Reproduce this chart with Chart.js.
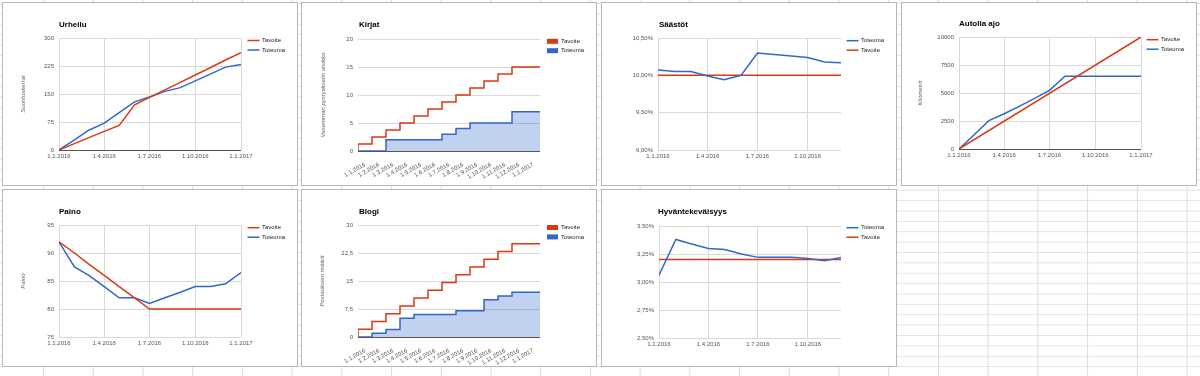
<!DOCTYPE html>
<html>
<head>
<meta charset="utf-8">
<script src="https://cdn.jsdelivr.net/npm/chart.js@4.4.0/dist/chart.umd.min.js"></script>
<style>
  html, body { margin: 0; padding: 0; }
  body {
    width: 1200px;
    height: 376px;
    overflow: hidden;
    position: relative;
    background-color: #fff;
    background-image: linear-gradient(to right, #dcdcdc 1px, transparent 1px),
      linear-gradient(to bottom, #e2e2e2 1px, transparent 1px);
    background-size: 49.72px 10.39px;
    background-position: 43px 3px;
  }
  .panel { position: absolute; background: #fff; border: 1px solid #b7b7b7; }
  .panel canvas { position: absolute; left: 0; top: 0; }
</style>
</head>
<body>
<div class="panel" style="left:2px;top:2px;width:294px;height:182px"><canvas id="urheilu" width="294" height="182"></canvas></div>
<div class="panel" style="left:301px;top:2px;width:294px;height:182px"><canvas id="kirjat" width="294" height="182"></canvas></div>
<div class="panel" style="left:601px;top:2px;width:294px;height:182px"><canvas id="saastot" width="294" height="182"></canvas></div>
<div class="panel" style="left:901px;top:2px;width:294px;height:182px"><canvas id="autolla" width="294" height="182"></canvas></div>
<div class="panel" style="left:2px;top:189px;width:294px;height:176px"><canvas id="paino" width="294" height="176"></canvas></div>
<div class="panel" style="left:301px;top:189px;width:294px;height:176px"><canvas id="blogi" width="294" height="176"></canvas></div>
<div class="panel" style="left:601px;top:189px;width:294px;height:176px"><canvas id="hyvantekevaisyys" width="294" height="176"></canvas></div>

<script>
const RED = "#dc3912";
const BLUE = "#3366cc";
const BLUE_FILL = "rgba(51, 102, 204, 0.3)";
const GRID = "#d9d9d9";
const BASE = "#555555";
const FONT = "'Liberation Sans', Arial, sans-serif";

// month starts used as categories
const months = ["1.1.2016", "1.2.2016", "1.3.2016", "1.4.2016", "1.5.2016", "1.6.2016",
  "1.7.2016", "1.8.2016", "1.9.2016", "1.10.2016", "1.11.2016", "1.12.2016", "1.1.2017"];
const months2016 = months.slice(0, 12);
const quarterTicks = ["1.1.2016", "1.4.2016", "1.7.2016", "1.10.2016", "1.1.2017"];
const quarterTicks2016 = ["1.1.2016", "1.4.2016", "1.7.2016", "1.10.2016"];

const urheiluTavoite = [0, 17, 33, 50, 66, 121, 141, 161, 181, 201, 221, 241, 261];
const urheiluToteuma = [0, 27, 53, 72, 100, 129, 142, 157, 167, 185, 204, 222, 229];
const urheiluYTicks = [0, 75, 150, 225, 300];

const kirjatTavoite = [0, 1.25, 2.5, 3.75, 5, 6.25, 7.5, 8.75, 10, 11.25, 12.5, 13.75, 15];
const kirjatToteuma = [0, 0, 0, 2, 2, 2, 2, 3, 4, 5, 5, 5, 7];
const kirjatYTicks = [0, 5, 10, 15, 20];

const saastotToteuma = [10.07, 10.05, 10.05, 9.99, 9.94, 10.0, 10.30, 10.28, 10.26, 10.24, 10.18, 10.17];
const saastotTavoite = [10, 10, 10, 10, 10, 10, 10, 10, 10, 10, 10, 10];
const saastotYTicks = [9, 9.5, 10, 10.5];

const autollaTavoiteDates = ["1.1.2016", "1.1.2017"];
const autollaTavoite = [0, 10000];
const autollaToteuma = [0, 1300, 2530, 3150, 3810, 4520, 5240, 6500, 6500, 6500, 6500, 6500, 6500];
const autollaYTicks = [0, 2500, 5000, 7500, 10000];

const painoTavoite = [92, 90, 88, 86, 84, 82, 80, 80, 80, 80, 80, 80, 80];
const painoToteuma = [92, 87.5, 86, 84, 82, 82, 81, 82, 83, 84, 84, 84.5, 86.5];
const painoYTicks = [75, 80, 85, 90, 95];

const blogiTavoite = [0, 2.08, 4.17, 6.25, 8.33, 10.42, 12.5, 14.58, 16.67, 18.75, 20.83, 22.92, 25];
const blogiToteuma = [0, 0, 1, 2, 5, 6, 6, 6, 7, 7, 10, 11, 12];
const blogiYTicks = [0, 7.5, 15, 22.5, 30];

const hyvToteuma = [3.06, 3.38, 3.34, 3.30, 3.29, 3.25, 3.22, 3.22, 3.22, 3.21, 3.19, 3.22];
const hyvTavoite = [3.2, 3.2, 3.2, 3.2, 3.2, 3.2, 3.2, 3.2, 3.2, 3.2, 3.2, 3.2];
const hyvYTicks = [2.5, 2.75, 3, 3.25, 3.5];

Chart.defaults.font.family = FONT;
Chart.defaults.animation = false;

function dayOf(label) {
  let p = label.split(".");
  return (Date.UTC(+p[2], +p[1] - 1, +p[0]) - Date.UTC(2016, 0, 1)) / 86400000;
}

function datePoints(dates, values) {
  return values.map((v, i) => ({ x: dayOf(dates[i]), y: v }));
}

// hold each month's value over its whole category width
function stepPoints(values) {
  let pts = values.map((v, i) => ({ x: i, y: v }));
  pts.push({ x: values.length, y: values[values.length - 1] });
  return pts;
}

function fmtPlain(v) {
  return String(v).replace(".", ",");
}

function fmtPct(v) {
  return v.toFixed(2).replace(".", ",") + "%";
}

const panelDecor = {
  id: "panelDecor",
  afterDraw(chart, args, opts) {
    let ctx = chart.ctx;
    ctx.save();
    ctx.textBaseline = "middle";
    ctx.textAlign = "left";
    ctx.fillStyle = "#000";
    ctx.font = "bold 8px " + FONT;
    ctx.fillText(opts.title, opts.titleX, opts.titleY);
    ctx.font = "6px " + FONT;
    opts.order.forEach(function (dsIndex, i) {
      let ds = chart.data.datasets[dsIndex];
      let y = opts.legendY + i * opts.legendGap;
      if (opts.boxes) {
        ctx.fillStyle = ds.borderColor;
        ctx.fillRect(opts.legendX, y - 2.5, 11, 5);
      } else {
        ctx.strokeStyle = ds.borderColor;
        ctx.lineWidth = 1.5;
        ctx.beginPath();
        ctx.moveTo(opts.legendX, y);
        ctx.lineTo(opts.legendX + 12, y);
        ctx.stroke();
      }
      ctx.fillStyle = "#222";
      ctx.fillText(ds.label, opts.textX, y);
    });
    ctx.restore();
  },
};

function lineSet(label, color, points, stepped, fill) {
  return {
    label: label,
    data: points,
    borderColor: color,
    backgroundColor: fill ? BLUE_FILL : color,
    borderWidth: 1.5,
    pointRadius: 0,
    tension: 0,
    stepped: stepped ? "after" : false,
    fill: fill ? "origin" : false,
  };
}

function timeAxis(tickLabels, maxLabel, height) {
  return {
    type: "linear",
    min: 0,
    max: dayOf(maxLabel),
    afterBuildTicks: function (s) {
      s.ticks = tickLabels.map((l) => ({ value: dayOf(l) }));
    },
    afterFit: function (s) {
      s.height = height;
    },
    ticks: {
      autoSkip: false,
      maxRotation: 0,
      color: "#555",
      font: { size: 6 },
      padding: 3,
      callback: (v, i) => tickLabels[i],
    },
    grid: { color: GRID, drawTicks: false },
    border: { display: false },
  };
}

function categoryAxis(labels, height) {
  return {
    type: "linear",
    min: 0,
    max: labels.length,
    afterBuildTicks: function (s) {
      s.ticks = labels.map((l, i) => ({ value: i + 0.5 }));
    },
    afterFit: function (s) {
      s.height = height;
    },
    ticks: {
      autoSkip: false,
      minRotation: 30,
      maxRotation: 30,
      color: "#555",
      font: { size: 6 },
      padding: 2,
      callback: (v, i) => labels[i],
    },
    grid: { display: false },
    border: { display: false },
  };
}

function valueAxis(tickValues, fmt, width, title, titleX) {
  return {
    min: tickValues[0],
    max: tickValues[tickValues.length - 1],
    afterBuildTicks: function (s) {
      s.ticks = tickValues.map((v) => ({ value: v }));
    },
    afterFit: function (s) {
      s.width = width;
    },
    ticks: { color: "#555", font: { size: 6 }, padding: 5, callback: fmt },
    grid: {
      drawTicks: false,
      color: (c) => (c.tick && c.tick.value === 0 ? BASE : GRID),
    },
    border: { display: false },
    title: {
      display: !!title,
      text: title || "",
      color: "#666",
      font: { size: 6, style: "italic" },
      padding: { top: (titleX || 0) - 3.6, bottom: 0 },
    },
  };
}

function buildChart(id, datasets, xAxis, yAxis, area, decor) {
  let canvas = document.getElementById(id);
  return new Chart(canvas, {
    type: "line",
    data: { datasets: datasets },
    options: {
      responsive: false,
      devicePixelRatio: 1,
      layout: { padding: { left: 0, top: area.t, right: canvas.width - area.r, bottom: 0 } },
      plugins: {
        legend: { display: false },
        title: { display: false },
        tooltip: { enabled: false },
        panelDecor: decor,
      },
      scales: { x: xAxis, y: yAxis },
    },
    plugins: [panelDecor],
  });
}

function lineDecor(title, tx, ty, ly, order) {
  return { title: title, titleX: tx, titleY: ty, legendX: 244.5, textX: 259, legendY: ly, legendGap: 9.5, order: order, boxes: false };
}

function boxDecor(title, tx, ty, ly) {
  return { title: title, titleX: tx, titleY: ty, legendX: 245, textX: 259, legendY: ly, legendGap: 9.4, order: [0, 1], boxes: true };
}

window.onload = function () {
  buildChart("urheilu",
    [lineSet("Tavoite", RED, datePoints(months, urheiluTavoite)),
     lineSet("Toteuma", BLUE, datePoints(months, urheiluToteuma))],
    timeAxis(quarterTicks, "1.1.2017", 182 - 147),
    valueAxis(urheiluYTicks, fmtPlain, 56, "Suorituskerrat", 20),
    { t: 35, r: 238 },
    lineDecor("Urheilu", 56, 21.5, 37.5, [0, 1]));

  buildChart("kirjat",
    [lineSet("Tavoite", RED, stepPoints(kirjatTavoite), true, false),
     lineSet("Toteuma", BLUE, stepPoints(kirjatToteuma), true, true)],
    categoryAxis(months, 182 - 148),
    valueAxis(kirjatYTicks, fmtPlain, 56, "Vasemman pystyakselin otsikko", 21),
    { t: 36, r: 238 },
    boxDecor("Kirjat", 57, 22, 38.3));

  buildChart("saastot",
    [lineSet("Toteuma", BLUE, datePoints(months2016, saastotToteuma)),
     lineSet("Tavoite", RED, datePoints(months2016, saastotTavoite))],
    timeAxis(quarterTicks2016, "1.12.2016", 182 - 147),
    valueAxis(saastotYTicks, fmtPct, 56, null),
    { t: 35, r: 239 },
    lineDecor("Säästöt", 57, 22, 37.7, [0, 1]));

  buildChart("autolla",
    [lineSet("Tavoite", RED, datePoints(autollaTavoiteDates, autollaTavoite)),
     lineSet("Toteuma", BLUE, datePoints(months, autollaToteuma))],
    timeAxis(quarterTicks, "1.1.2017", 182 - 146),
    valueAxis(autollaYTicks, fmtPlain, 57, "Kilometrit", 18),
    { t: 34, r: 239 },
    lineDecor("Autolla ajo", 57, 21, 36.7, [0, 1]));

  buildChart("paino",
    [lineSet("Tavoite", RED, datePoints(months, painoTavoite)),
     lineSet("Toteuma", BLUE, datePoints(months, painoToteuma))],
    timeAxis(quarterTicks, "1.1.2017", 176 - 147),
    valueAxis(painoYTicks, fmtPlain, 56, "Paino", 20),
    { t: 35, r: 238 },
    lineDecor("Paino", 56, 21.7, 37.7, [0, 1]));

  buildChart("blogi",
    [lineSet("Tavoite", RED, stepPoints(blogiTavoite), true, false),
     lineSet("Toteuma", BLUE, stepPoints(blogiToteuma), true, true)],
    categoryAxis(months, 176 - 147),
    valueAxis(blogiYTicks, fmtPlain, 56, "Postauksien määrä", 20),
    { t: 35, r: 238 },
    boxDecor("Blogi", 57, 22, 37.5));

  buildChart("hyvantekevaisyys",
    [lineSet("Toteuma", BLUE, datePoints(months2016, hyvToteuma)),
     lineSet("Tavoite", RED, datePoints(months2016, hyvTavoite))],
    timeAxis(quarterTicks2016, "1.12.2016", 176 - 148),
    valueAxis(hyvYTicks, fmtPct, 57, null),
    { t: 36, r: 239 },
    lineDecor("Hyväntekeväisyys", 56, 22, 37.7, [0, 1]));
};
</script>
</body>
</html>
